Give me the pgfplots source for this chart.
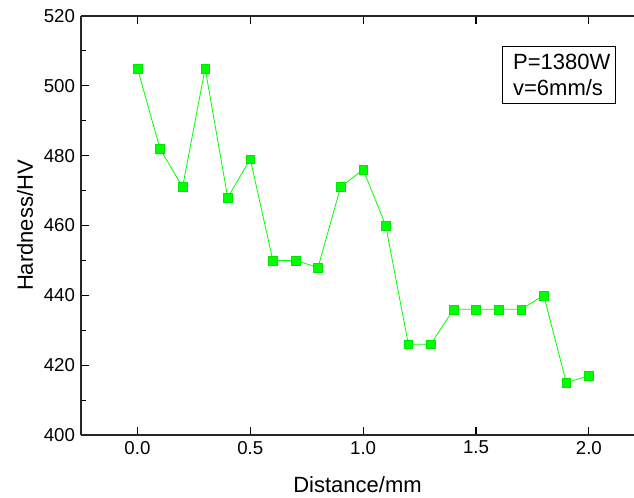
\documentclass[border=0pt]{standalone}
\usepackage{pgfplots}
\pgfplotsset{compat=1.18}
\usepackage{fontspec}
\setmainfont{Liberation Sans}
\begin{document}
\begin{tikzpicture}[x=1pt,y=1pt]
\begin{axis}[
  at={(0,0)}, anchor=south west,
  scale only axis,
  width=414.75pt, height=314.25pt,
  xmin=-0.25, xmax=2.2,
  ymin=400, ymax=520,
  axis x line*=box, axis y line*=left,
  axis line style={line width=1.1pt, black!85},
  xtick={0,0.5,...,2.0},
  ytick={400,420,...,520},
  minor y tick num=1,
  tick align=inside,
  major tick length=6pt, minor tick length=3.5pt,
  tick style={line width=0.8pt, black},
  xticklabel style={/pgf/number format/fixed, /pgf/number format/fixed zerofill, /pgf/number format/precision=1, yshift=-1pt},
  yticklabel style={/pgf/number format/fixed, xshift=-1pt},
  /pgf/number format/assume math mode=true,
  ticklabel style={font=\fontsize{14}{16}\selectfont},
  xlabel={Distance/mm}, ylabel={Hardness/HV},
  label style={font=\fontsize{16.5}{18}\selectfont},
  xlabel style={at={([yshift=-37.5pt]axis description cs:0.5,0)}, anchor=center},
  ylabel style={at={([xshift=-42pt]axis description cs:0,0.5)}, anchor=center},
  clip=false,
]
\addplot[color={rgb,255:red,0;green,255;blue,0}, line width=0.6pt,
  mark=square*, mark size=3.3pt,
  mark options={fill={rgb,255:red,0;green,255;blue,0}, draw={rgb,255:red,0;green,230;blue,0}, line width=0.3pt}]
coordinates {
(0.0,505) (0.1,482) (0.2,471) (0.3,505) (0.4,468) (0.5,479) (0.6,450)
(0.7,450) (0.8,448) (0.9,471) (1.0,476) (1.1,460) (1.2,426) (1.3,426)
(1.4,436) (1.5,436) (1.6,436) (1.7,436) (1.8,440) (1.9,415) (2.0,417)
};
\node[draw=black, line width=0.7pt, fill=white, inner xsep=8pt, inner ysep=0pt,
  text width=69pt, minimum height=42.75pt, align=left,
  anchor=north west, font=\fontsize{16.5}{20}\selectfont]
  at (rel axis cs:0.7613,0.9284) {P=1380W\\v=6mm/s};
\end{axis}
\pgfresetboundingbox
\path[use as bounding box] (-60.75pt,-46.5pt) rectangle (414.75pt,326.25pt);
\end{tikzpicture}
\end{document}
